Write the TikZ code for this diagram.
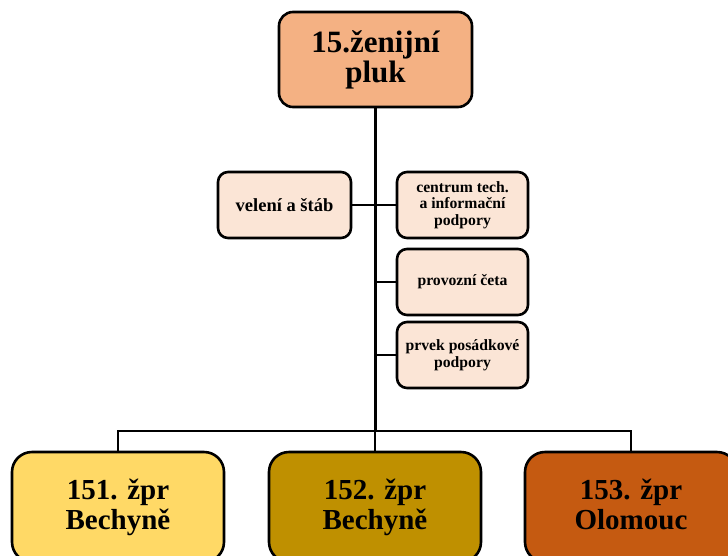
\documentclass[tikz,border=0pt]{standalone}
\usepackage{fontspec}
\setmainfont{Liberation Serif}
\definecolor{topc}{HTML}{F4B183}
\definecolor{subc}{HTML}{FBE5D6}
\definecolor{b1c}{HTML}{FFD966}
\definecolor{b2c}{HTML}{BF9000}
\definecolor{b3c}{HTML}{C55A11}
\tikzset{
  box/.style={draw=black, line width=2.6pt, rounded corners=14pt, align=center, inner sep=0pt, font=\bfseries},
  topbox/.style={box, fill=topc, minimum width=193pt, minimum height=95pt, font=\bfseries\fontsize{31}{30}\selectfont},
  subbox/.style={box, fill=subc, rounded corners=10pt, minimum width=131pt, minimum height=66pt, font=\bfseries\fontsize{15.7}{16.7}\selectfont},
  botbox/.style={box, rounded corners=20pt, minimum width=212pt, minimum height=110pt, font=\bfseries\fontsize{29}{30}\selectfont},
  conn/.style={draw=black, line width=2.5pt}
}
\begin{document}
\begin{tikzpicture}[x=1pt,y=-1pt]
\useasboundingbox (0,0) rectangle (728,555);
\clip (0,0) rectangle (728,555);
\node[topbox] (top) at (375.5,59.5) {15.ženijní\\pluk};
\node[subbox, minimum width=133pt, font=\bfseries\fontsize{18.5}{20}\selectfont] (vel) at (284.5,205) {velení a štáb};
\node[subbox] (cen) at (462.5,205) {centrum tech.\\a informační\\podpory};
\node[subbox] (prov) at (462.5,282) {provozní četa};
\node[subbox] (prv) at (462.5,355) {prvek posádkové\\podpory};
\node[botbox, fill=b1c] (b1) at (118,507) {151. žpr\\Bechyně};
\node[botbox, fill=b2c] (b2) at (375,507) {152. žpr\\Bechyně};
\node[botbox, fill=b3c] (b3) at (631,507) {153. žpr\\Olomouc\vphantom{y}};
\coordinate (j) at (375,431);
\draw[conn, line width=3pt] (top.south -| j) -- (j);
\draw[conn] (vel.east) -- (cen.west);
\draw[conn] (prov.west) -- (prov.west -| j);
\draw[conn] (prv.west) -- (prv.west -| j);
\draw[conn] (b1.north) |- (j) -| (b3.north);
\draw[conn] (j) -- (b2.north);
\end{tikzpicture}
\end{document}
